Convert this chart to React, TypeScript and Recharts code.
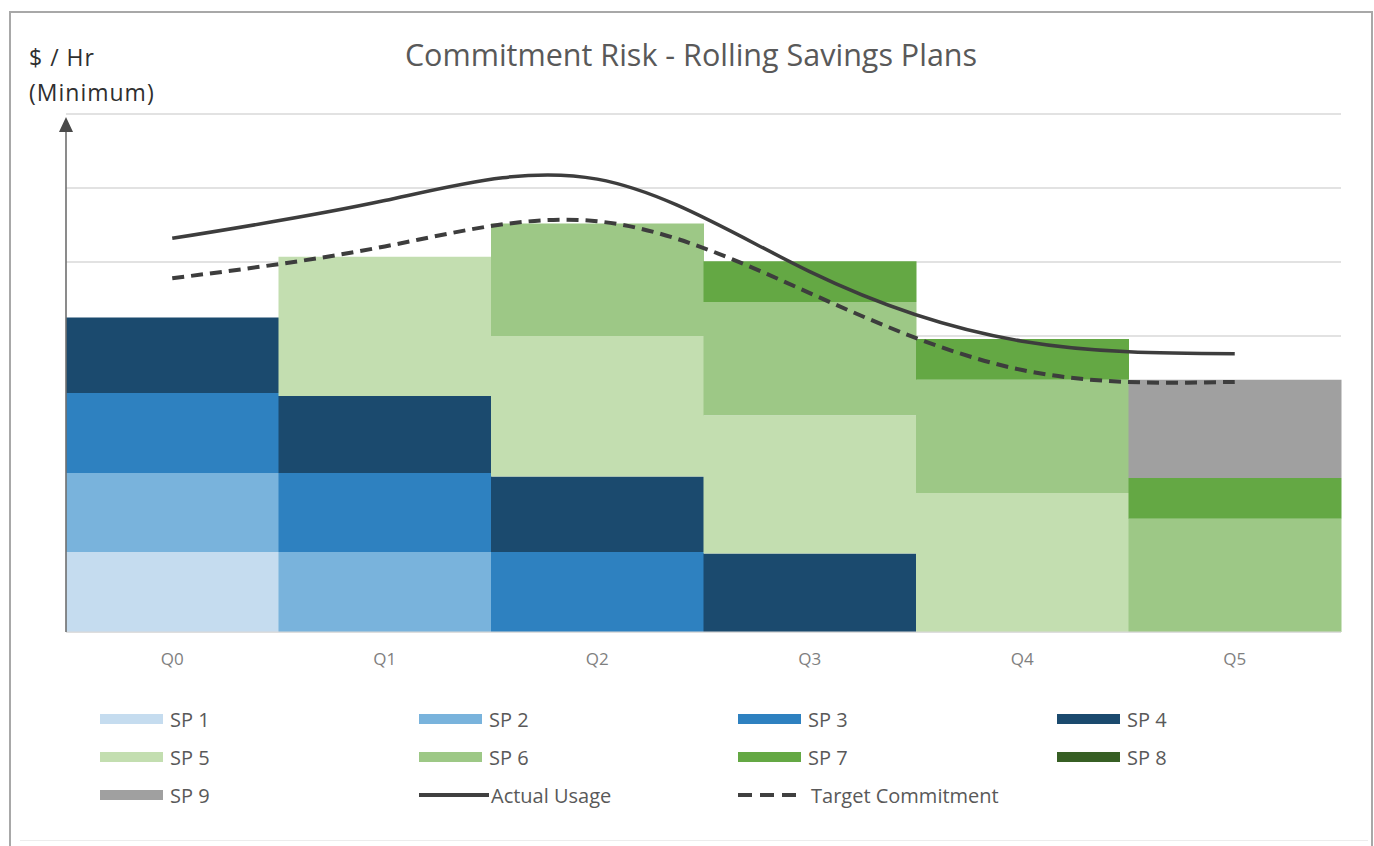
import React from "react";
import { ComposedChart, Bar, Line, XAxis, YAxis, CartesianGrid } from "recharts";

const quarters = ["Q0", "Q1", "Q2", "Q3", "Q4", "Q5"];
const sp1 = [1.08, 0, 0, 0, 0, 0];
const sp2 = [1.07, 1.08, 0, 0, 0, 0];
const sp3 = [1.08, 1.07, 1.08, 0, 0, 0];
const sp4 = [1.02, 1.04, 1.02, 1.06, 0, 0];
const sp5 = [0, 1.88, 1.9, 1.87, 1.88, 0];
const sp6 = [0, 0, 1.52, 1.53, 1.53, 1.53];
const sp7 = [0, 0, 0, 0.55, 0.55, 0.55];
const sp8 = [0, 0, 0, 0, 0, 0];
const sp9 = [0, 0, 0, 0, 0, 1.33];
const actualUsage = [5.32, 5.83, 6.12, 4.87, 3.93, 3.76];
const targetCommitment = [4.78, 5.21, 5.55, 4.58, 3.54, 3.38];
const yTicks = [0, 1, 2, 3, 4, 5, 6, 7];

const barSeries = [
  { key: "sp1", name: "SP 1", values: sp1, color: "#c5dcef" },
  { key: "sp2", name: "SP 2", values: sp2, color: "#79b3dc" },
  { key: "sp3", name: "SP 3", values: sp3, color: "#2e81c0" },
  { key: "sp4", name: "SP 4", values: sp4, color: "#1b4a6e" },
  { key: "sp5", name: "SP 5", values: sp5, color: "#c3deb0" },
  { key: "sp6", name: "SP 6", values: sp6, color: "#9dc886" },
  { key: "sp7", name: "SP 7", values: sp7, color: "#64a844" },
  { key: "sp8", name: "SP 8", values: sp8, color: "#375f24" },
  { key: "sp9", name: "SP 9", values: sp9, color: "#a0a0a0" },
];

const lineSeries = [
  { key: "actual", name: "Actual Usage", values: actualUsage, dash: undefined as string | undefined },
  { key: "target", name: "Target Commitment", values: targetCommitment, dash: "12 7" },
];

const data = quarters.map((q, i) => {
  const row: Record<string, number | string> = { q };
  barSeries.forEach((s) => (row[s.key] = s.values[i]));
  lineSeries.forEach((s) => (row[s.key] = s.values[i]));
  return row;
});

const FONT = "'Open Sans', 'Noto Sans', sans-serif";

const legendItems = [
  ...barSeries.map((s) => ({ name: s.name, type: "bar", color: s.color, dash: undefined as string | undefined })),
  ...lineSeries.map((s) => ({ name: s.name, type: "line", color: "#404040", dash: s.dash })),
];

export default function App() {
  return (
    <div style={{ position: "relative", width: 1374, height: 846, background: "#fff", overflow: "hidden" }}>
      <style>{`body{margin:0;}`}</style>
      <div
        style={{
          position: "absolute",
          left: 9,
          top: 11,
          width: 1360,
          height: 846,
          borderLeft: "2px solid #a8a8a8",
          borderTop: "2px solid #a8a8a8",
          borderRight: "2px solid #a8a8a8",
        }}
      />
      <div style={{ position: "absolute", left: 20, top: 840, width: 1348, height: 1, background: "#ececec" }} />
      <div
        style={{
          position: "absolute",
          left: 0,
          top: 34,
          width: 1382,
          textAlign: "center",
          fontFamily: FONT,
          fontSize: 30.5,
          color: "#595959",
          lineHeight: "40px",
        }}
      >
        Commitment Risk - Rolling Savings Plans
      </div>
      <div
        style={{
          position: "absolute",
          left: 29,
          top: 40,
          fontFamily: FONT,
          fontSize: 23,
          color: "#2f2f2f",
          lineHeight: "35px",
          letterSpacing: 1,
        }}
      >
        <div>$ / Hr</div>
        <div>(Minimum)</div>
      </div>
      <div style={{ position: "absolute", left: 0, top: 0 }}>
        <ComposedChart
          width={1374}
          height={846}
          data={data}
          margin={{ top: 114, right: 33, bottom: 174, left: 66 }}
          barCategoryGap={0}
          barGap={0}
        >
          <CartesianGrid vertical={false} horizontal={true} stroke="#d9d9d9" strokeWidth={1.5} horizontalValues={yTicks} />
          <XAxis
            dataKey="q"
            height={40}
            axisLine={{ stroke: "#d9d9d9" }}
            tickLine={false}
            tick={{ fill: "#7f7f7f", fontSize: 17, fontFamily: FONT, dy: 13 }}
          />
          <YAxis
            width={0}
            domain={[0, 7]}
            ticks={yTicks}
            interval={0}
            tick={{ fill: "none", fontSize: 1 }}
            tickLine={false}
            axisLine={false}
          />
          {barSeries.map((s) => (
            <Bar key={s.key} dataKey={s.key} name={s.name} stackId="a" fill={s.color} isAnimationActive={false} />
          ))}
          {lineSeries.map((s) => (
            <Line
              key={s.key}
              dataKey={s.key}
              name={s.name}
              type="natural"
              stroke="#3d3d3d"
              strokeWidth={s.dash ? 4 : 3.5}
              strokeDasharray={s.dash}
              dot={false}
              activeDot={false}
              isAnimationActive={false}
            />
          ))}
        </ComposedChart>
      </div>
      <svg style={{ position: "absolute", left: 0, top: 0 }} width={1374} height={846}>
        <line x1={66} y1={128} x2={66} y2={632} stroke="#6f6f6f" strokeWidth={1.6} />
        <polygon points="66,117 59,132 73,132" fill="#4a4a4a" />
      </svg>
      <div
        style={{
          position: "absolute",
          left: 100,
          top: 700,
          width: 1280,
          display: "grid",
          gridTemplateColumns: "319px 319px 319px 319px",
          rowGap: 0,
          fontFamily: FONT,
          fontSize: 20,
          color: "#595959",
        }}
      >
        {legendItems.map((it) => (
          <div key={it.name} style={{ display: "flex", alignItems: "center", height: 38 }}>
            <svg width={it.type === "line" && !it.dash ? 70 : 63} height={14} style={{ marginRight: it.type === "line" ? (it.dash ? 10 : 2) : 7 }}>
              {it.type === "bar" ? (
                <rect x={0} y={2} width={63} height={10} fill={it.color} />
              ) : (
                <line
                  x1={0}
                  y1={7}
                  x2={it.dash ? 63 : 70}
                  y2={7}
                  stroke={it.color}
                  strokeWidth={4}
                  strokeDasharray={it.dash ? "14 8" : undefined}
                />
              )}
            </svg>
            <span>{it.name}</span>
          </div>
        ))}
      </div>
    </div>
  );
}
